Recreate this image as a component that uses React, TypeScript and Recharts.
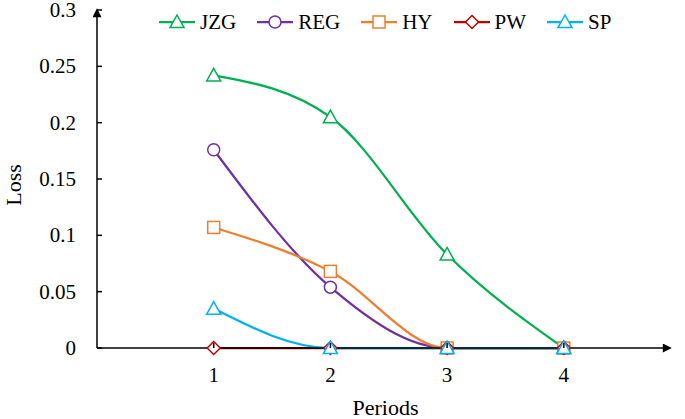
import React from 'react';
import { LineChart, Line, XAxis, YAxis } from 'recharts';

const periods = [1, 2, 3, 4];
const jzg = [0.242, 0.205, 0.083, 0];
const reg = [0.176, 0.054, 0, 0];
const hy = [0.107, 0.068, 0, 0];
const pw = [0, 0, 0, 0];
const sp = [0.035, 0, 0, 0];
const yTicks = [0, 0.05, 0.1, 0.15, 0.2, 0.25, 0.3];
const xTicks = [1, 2, 3, 4];

const seriesNames = ['JZG', 'REG', 'HY', 'PW', 'SP'];
const seriesColors = ['#00B050', '#7030A0', '#ED7D31', '#C00000', '#00B0F0'];
const seriesShapes = ['triangle', 'circle', 'square', 'diamond', 'triangle'];

const data = periods.map((p, i) => ({
  period: p,
  JZG: jzg[i],
  REG: reg[i],
  HY: hy[i],
  PW: pw[i],
  SP: sp[i],
}));

const FONT = '"Liberation Serif", "Times New Roman", serif';

function Marker({ shape, cx, cy, color }: { shape: string; cx: number; cy: number; color: string }) {
  const sw = 1.5;
  if (shape === 'triangle') {
    const s = 7;
    const pts = `${cx},${cy - s} ${cx + s},${cy + s * 0.8} ${cx - s},${cy + s * 0.8}`;
    return <polygon points={pts} fill="#fff" stroke={color} strokeWidth={sw} />;
  }
  if (shape === 'circle') {
    return <circle cx={cx} cy={cy} r={6} fill="#fff" stroke={color} strokeWidth={sw} />;
  }
  if (shape === 'square') {
    return <rect x={cx - 6} y={cy - 6} width={12} height={12} fill="#fff" stroke={color} strokeWidth={sw} />;
  }
  const s = 6.5;
  const pts = `${cx},${cy - s} ${cx + s},${cy} ${cx},${cy + s} ${cx - s},${cy}`;
  return <polygon points={pts} fill="#fff" stroke={color} strokeWidth={sw} />;
}

const textStyle = { fontFamily: FONT, fontSize: 21, fill: '#000' };

const YTick = (props: any) => {
  const { x, y, payload } = props;
  return (
    <g>
      <line x1={x} y1={y} x2={x + 5} y2={y} stroke="#000" strokeWidth={1.5} />
      <text x={x - 21} y={y} dy={7} textAnchor="end" style={textStyle}>
        {payload.value}
      </text>
    </g>
  );
};

const XTick = (props: any) => {
  const { x, y, payload } = props;
  return (
    <g>
      <line x1={x} y1={y} x2={x} y2={y - 5} stroke="#000" strokeWidth={1.5} />
      <text x={x} y={y + 34} textAnchor="middle" style={textStyle}>
        {payload.value}
      </text>
    </g>
  );
};

export default function App() {
  return (
    <div style={{ position: 'absolute', left: 0, top: 0, width: 685, height: 419, background: '#fff' }}>
      <LineChart width={685} height={419} data={data} margin={{ top: 10, right: 15, bottom: 11, left: 0 }}>
        <defs>
          <marker id="arrowHead" viewBox="0 0 10 10" refX="8" refY="5" markerWidth="10" markerHeight="9" orient="auto-start-reverse" markerUnits="userSpaceOnUse">
            <path d="M0,0 L10,5 L0,10 z" fill="#000" />
          </marker>
        </defs>
        <XAxis
          dataKey="period"
          type="number"
          domain={[0, 4.91]}
          ticks={xTicks}
          height={60}
          tickSize={0}
          tickMargin={0}
          tick={<XTick />}
          axisLine={{ stroke: '#000', strokeWidth: 1.5, markerEnd: 'url(#arrowHead)' } as any}
          tickLine={false}
          allowDataOverflow
          label={(p: any) => {
            const vb = p.viewBox || { x: 97, y: 348, width: 573, height: 60 };
            return (
              <text x={vb.x + vb.width / 2 + 2} y={415} textAnchor="middle" style={{ ...textStyle, fontSize: 22 }}>
                Periods
              </text>
            );
          }}
        />
        <YAxis
          type="number"
          domain={[0, 0.3]}
          ticks={yTicks}
          width={97}
          tickSize={0}
          tickMargin={0}
          tick={<YTick />}
          axisLine={{ stroke: '#000', strokeWidth: 1.5, markerStart: 'url(#arrowHead)' } as any}
          tickLine={false}
          label={(p: any) => {
            const vb = p.viewBox || { x: 0, y: 10, width: 97, height: 338 };
            const cx = vb.x + 13;
            const cy = vb.y + vb.height / 2 + 6;
            return (
              <text x={cx} y={cy} transform={`rotate(-90 ${cx} ${cy})`} textAnchor="middle" dominantBaseline="central" style={{ ...textStyle, fontSize: 22 }}>
                Loss
              </text>
            );
          }}
        />
        {seriesNames.map((name, si) => (
          <Line
            key={name}
            type="monotone"
            dataKey={name}
            stroke={seriesColors[si]}
            strokeWidth={2.25}
            isAnimationActive={false}
            dot={(p: any) => (
              <Marker key={`${name}-${p.index}`} shape={seriesShapes[si]} cx={p.cx} cy={p.cy} color={seriesColors[si]} />
            )}
            activeDot={false}
          />
        ))}
      </LineChart>
      <div style={{ position: 'absolute', top: 10, left: 158, display: 'flex', alignItems: 'center', fontFamily: FONT, fontSize: 21, color: '#000' }}>
        {seriesNames.map((name, si) => (
          <div key={name} style={{ display: 'flex', alignItems: 'center', marginRight: 20 }}>
            <svg width={38} height={24}>
              <line x1={1} y1={12} x2={37} y2={12} stroke={seriesColors[si]} strokeWidth={2.25} />
              <Marker shape={seriesShapes[si]} cx={19} cy={12} color={seriesColors[si]} />
            </svg>
            <span style={{ marginLeft: 4, lineHeight: '24px' }}>{name}</span>
          </div>
        ))}
      </div>
    </div>
  );
}
